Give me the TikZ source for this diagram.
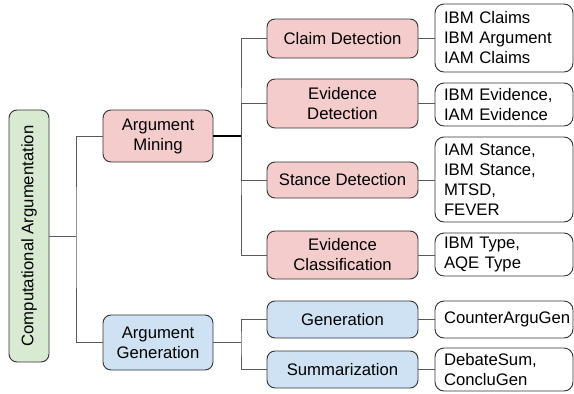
\documentclass[tikz,border=0pt]{standalone}
\usepackage{fontspec}
\setmainfont{Liberation Sans}
\definecolor{pinkf}{HTML}{F4CCCC}
\definecolor{bluef}{HTML}{CFE2F3}
\definecolor{greenf}{HTML}{D9EAD3}
\definecolor{bord}{HTML}{333333}
\definecolor{conn}{HTML}{595959}
\begin{document}
\begin{tikzpicture}[x=1pt,y=-1pt,
  every node/.style={font=\fontsize{16.7}{20}\selectfont, inner sep=0pt},
  box/.style={draw=bord, line width=0.9pt, rounded corners=8pt, align=center},
  task/.style={box, fill=pinkf, minimum width=151pt},
  gtask/.style={box, fill=bluef, minimum width=151pt},
  mid/.style={box, minimum width=110pt},
  data/.style={draw=bord, line width=0.9pt, rounded corners=9pt, fill=white, text width=120pt, inner xsep=9pt, align=left},
  link/.style={draw=conn, line width=1pt}
]
\useasboundingbox (0,0) rectangle (574,394);

% root
\node[box, fill=greenf, rotate=90, minimum width=252pt, minimum height=40pt] (root) at (29,236) {Computational Argumentation};

% middle level
\node[mid, fill=pinkf, minimum height=52pt] (am) at (158,136) {Argument\\Mining};
\node[mid, fill=bluef, minimum height=55pt] (ag) at (158,342.5) {Argument\\Generation};

% tasks
\node[task, minimum height=39pt] (cd) at (342.5,38.5) {Claim Detection};
\node[task, minimum height=49pt] (ed) at (342.5,103.5) {Evidence\\Detection};
\node[task, minimum height=36pt] (sd) at (342.5,180) {Stance Detection};
\node[task, minimum height=48pt] (ec) at (342.5,255) {Evidence\\Classification};
\node[gtask, minimum height=37pt] (ge) at (342.5,319.5) {Generation};
\node[gtask, minimum height=37pt] (su) at (342.5,369.5) {Summarization};

% datasets
\node[data, minimum height=68pt] (d1) at (504,38) {IBM Claims\\IBM Argument\\IAM Claims};
\node[data, minimum height=43pt] (d2) at (504,104.5) {IBM Evidence,\\IAM Evidence};
\node[data, minimum height=85pt] (d3) at (504,179.5) {IAM Stance,\\IBM Stance,\\MTSD,\\FEVER};
\node[data, minimum height=43pt] (d4) at (504,254.5) {IBM Type,\\AQE Type};
\node[data, minimum height=37pt] (d5) at (504,319.5) {CounterArguGen};
\node[data, minimum height=43pt] (d6) at (504,369.5) {DebateSum,\\ConcluGen};

% junctions
\coordinate (j1) at (76,236);
\coordinate (j2) at (241,136);
\coordinate (j3) at (241,342.5);

% connectors
\draw[link] (root.south) -- (j1);
\draw[link] (am.west) -| (j1) |- (ag.west);
\draw[link, line width=1.5pt, draw=black] (am.east) -- (j2);
\draw[link] (cd.west) -| (j2) |- (ec.west);
\draw[link] (ed.west) -| (j2);
\draw[link] (sd.west) -| (j2);
\draw[link] (ag.east) -- (j3);
\draw[link] (ge.west) -| (j3) |- (su.west);

\draw[link] (cd.east) -- (cd.east -| d1.west);
\draw[link] (ed.east) -- (ed.east -| d2.west);
\draw[link] (sd.east) -- (sd.east -| d3.west);
\draw[link] (ec.east) -- (ec.east -| d4.west);
\draw[link] (ge.east) -- (ge.east -| d5.west);
\draw[link] (su.east) -- (su.east -| d6.west);
\end{tikzpicture}
\end{document}
